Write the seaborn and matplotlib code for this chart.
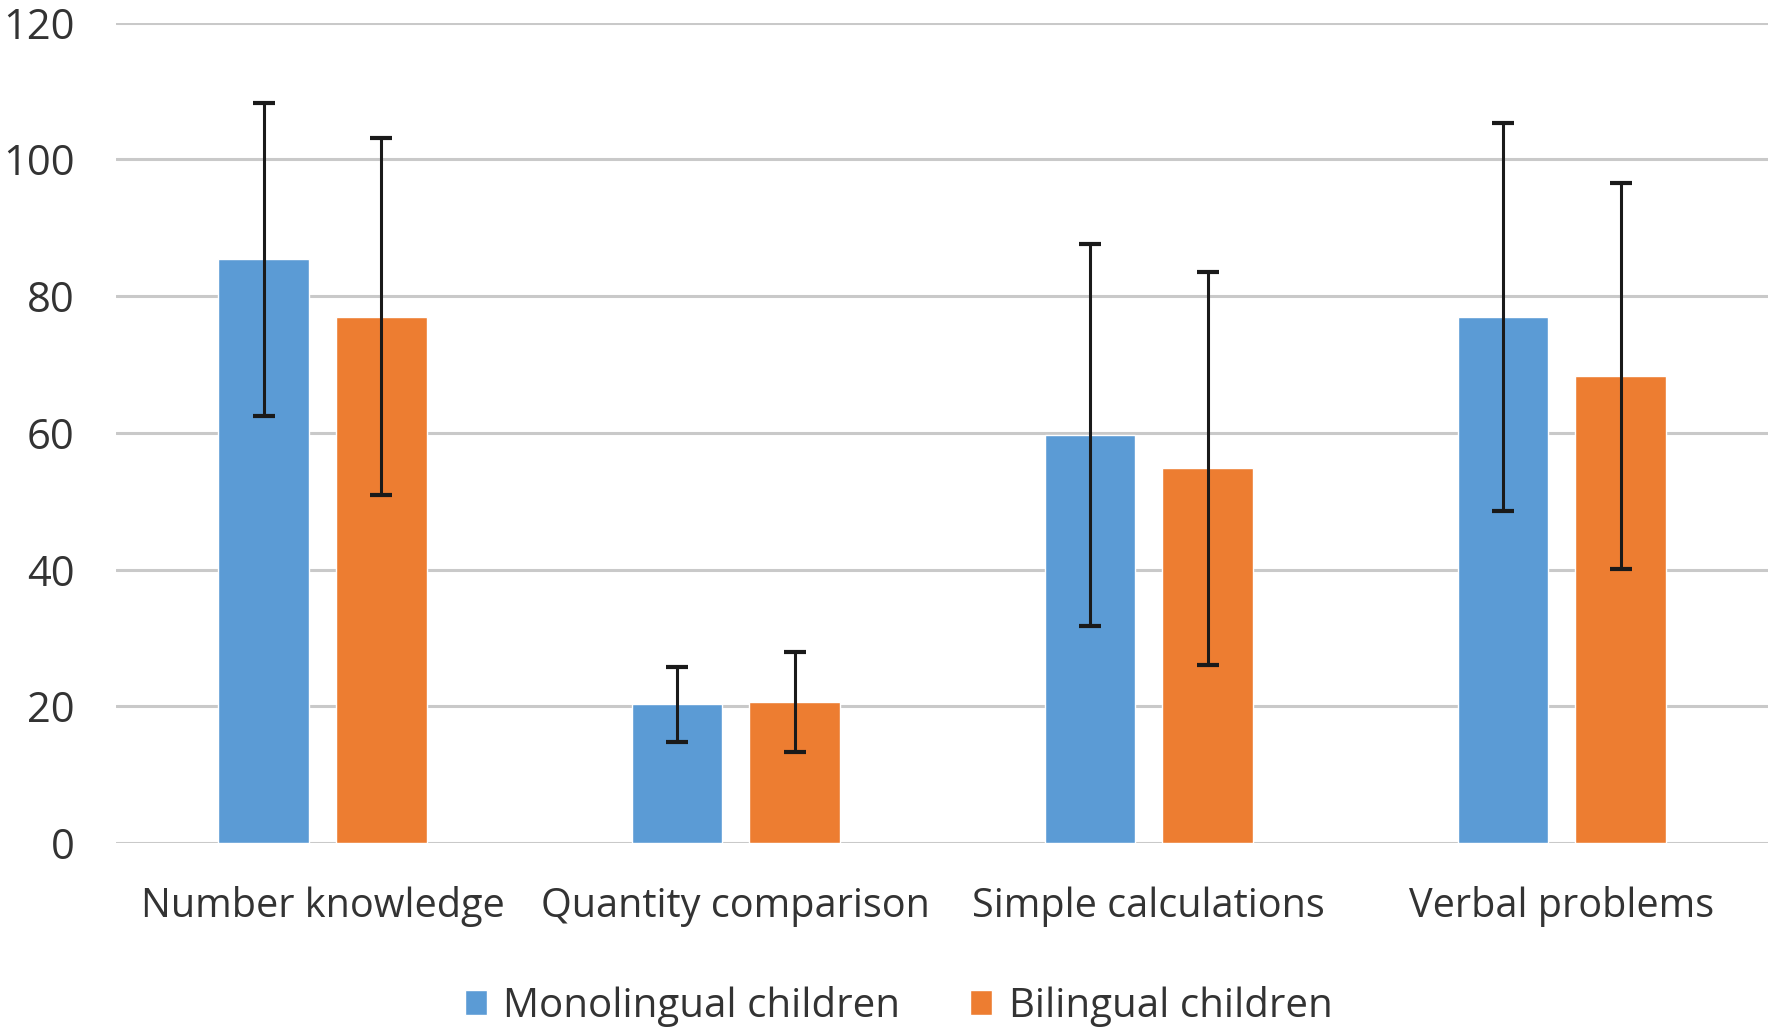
import pandas as pd
import seaborn as sns
import matplotlib.pyplot as plt

# Values
categories = ["Number knowledge", "Quantity comparison", "Simple calculations", "Verbal problems"]
groups = ["Monolingual children", "Bilingual children"]
mono_mean = [85.4, 20.3, 59.7, 77.0]
mono_err = [22.9, 5.5, 28.0, 28.4]
bi_mean = [77.0, 20.7, 54.8, 68.3]
bi_err = [26.1, 7.3, 28.7, 28.2]

df = pd.DataFrame({
    "task": categories * 2,
    "group": [groups[0]] * 4 + [groups[1]] * 4,
    "score": mono_mean + bi_mean,
})
errs = {groups[0]: mono_err, groups[1]: bi_err}

sns.set_theme(style="white")
plt.rcParams['font.family'] = ['Open Sans', 'DejaVu Sans']

fig, ax = plt.subplots(figsize=(17.72, 10.32), dpi=100)
fig.subplots_adjust(left=0.0655, right=0.998, bottom=0.183, top=0.978)

sns.barplot(data=df, x="task", y="score", hue="group", order=categories, hue_order=groups,
            palette=["#5B9BD5", "#ED7D31"], saturation=1, width=0.57, gap=0.23,
            errorbar=None, ax=ax, zorder=2)

# error bars on top of each bar container (one container per hue level)
for cont, g in zip(ax.containers, groups):
    xs = [p.get_x() + p.get_width() / 2 for p in cont.patches]
    ys = [p.get_height() for p in cont.patches]
    ax.errorbar(xs, ys, yerr=errs[g], fmt="none", ecolor="#1a1a1a", elinewidth=2.2,
                capsize=8, capthick=3, zorder=3)

ax.set_ylim(0, 120)
ax.set_xlim(-0.5, 3.5)
ax.set_yticks(range(0, 121, 20))
ax.yaxis.grid(True, color="#c9c9c9", linewidth=2.2, zorder=0)
ax.set_axisbelow(True)
for s in ax.spines.values():
    s.set_visible(False)
ax.set_xlabel("")
ax.set_ylabel("")
ax.tick_params(axis="y", length=0, pad=30, labelsize=30, labelcolor="#333333")
ax.tick_params(axis="x", length=0, pad=31, labelsize=28.5, labelcolor="#333333")

handles, labels = ax.get_legend_handles_labels()
ax.get_legend().remove()
fig.legend(handles, labels, loc="center", bbox_to_anchor=(0.507, 0.025), ncol=2,
           frameon=False, fontsize=29, handlelength=0.55, handleheight=0.55,
           handletextpad=0.4, columnspacing=1.75, labelcolor="#333333")

fig.savefig("out.png", dpi=100)
